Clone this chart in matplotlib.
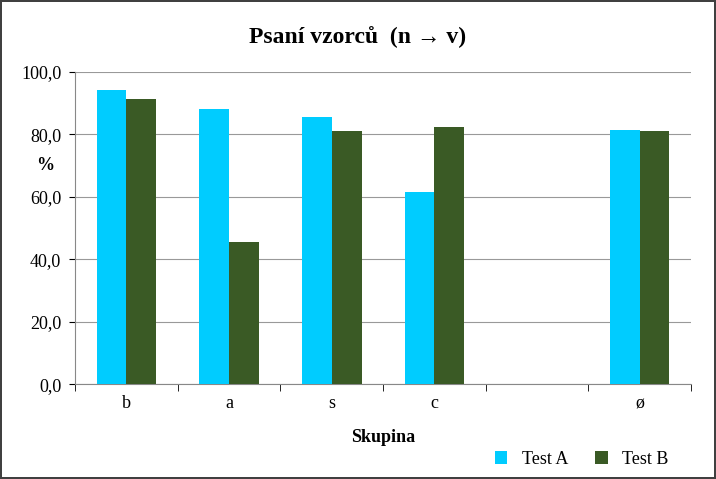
import numpy as np
import matplotlib
matplotlib.use("Agg")
from matplotlib import pyplot as plt
from matplotlib import ticker

plt.rc('font', family='Liberation Serif')

groups = ["b", "a", "s", "c", "", "ø"]
test_a = [94.2, 88.1, 85.6, 61.5, np.nan, 81.4]
test_b = [91.3, 45.5, 81.1, 82.4, np.nan, 81.1]

fig = plt.figure(figsize=(7.16, 4.79), dpi=100)
fig.patch.set_edgecolor('#404040')
fig.patch.set_linewidth(1.5)
ax = fig.add_axes([0.105, 0.198, 0.86, 0.652])

x = np.arange(len(groups))
w = 0.29
ax.bar(x - w / 2, test_a, width=w, color='#00CCFF', label='Test A', zorder=3)
ax.bar(x + w / 2, test_b, width=w, color='#3A5A25', label='Test B', zorder=3)

ax.set_xlim(-0.5, len(groups) - 0.5)
ax.set_ylim(0, 100)
ax.set_yticks(np.arange(0, 101, 20))
ax.yaxis.set_major_formatter(ticker.FuncFormatter(lambda v, p: f"{v:.1f}".replace('.', ',')))
ax.set_xticks(x)
ax.set_xticklabels(groups)
ax.set_xticks(np.arange(-0.5, len(groups), 1), minor=True)
ax.tick_params(axis='x', which='major', length=0, labelsize=13, pad=8)
ax.tick_params(axis='x', which='minor', length=5)
ax.tick_params(axis='y', labelsize=13, length=4, pad=6)
ax.grid(axis='y', color='#999999', linewidth=0.8, zorder=0)
for s in ['top', 'right']:
    ax.spines[s].set_visible(False)
ax.spines['left'].set_color('#888888')
ax.spines['bottom'].set_color('#888888')

fig.text(45 / 716, 1 - 166 / 479, '%', fontsize=13, fontweight='bold', ha='center', va='center')
ax.set_xlabel('Skupina', fontsize=13, fontweight='bold', labelpad=12)
fig.suptitle('Psaní vzorců  (n → v)', fontsize=17, fontweight='bold', y=0.945)
ax.legend(loc='lower right', bbox_to_anchor=(0.99, -0.32), ncol=2, frameon=False,
          fontsize=13, handlelength=0.7, handleheight=0.7, columnspacing=1.5)

plt.savefig("out.png", dpi=100, edgecolor=fig.get_edgecolor())
